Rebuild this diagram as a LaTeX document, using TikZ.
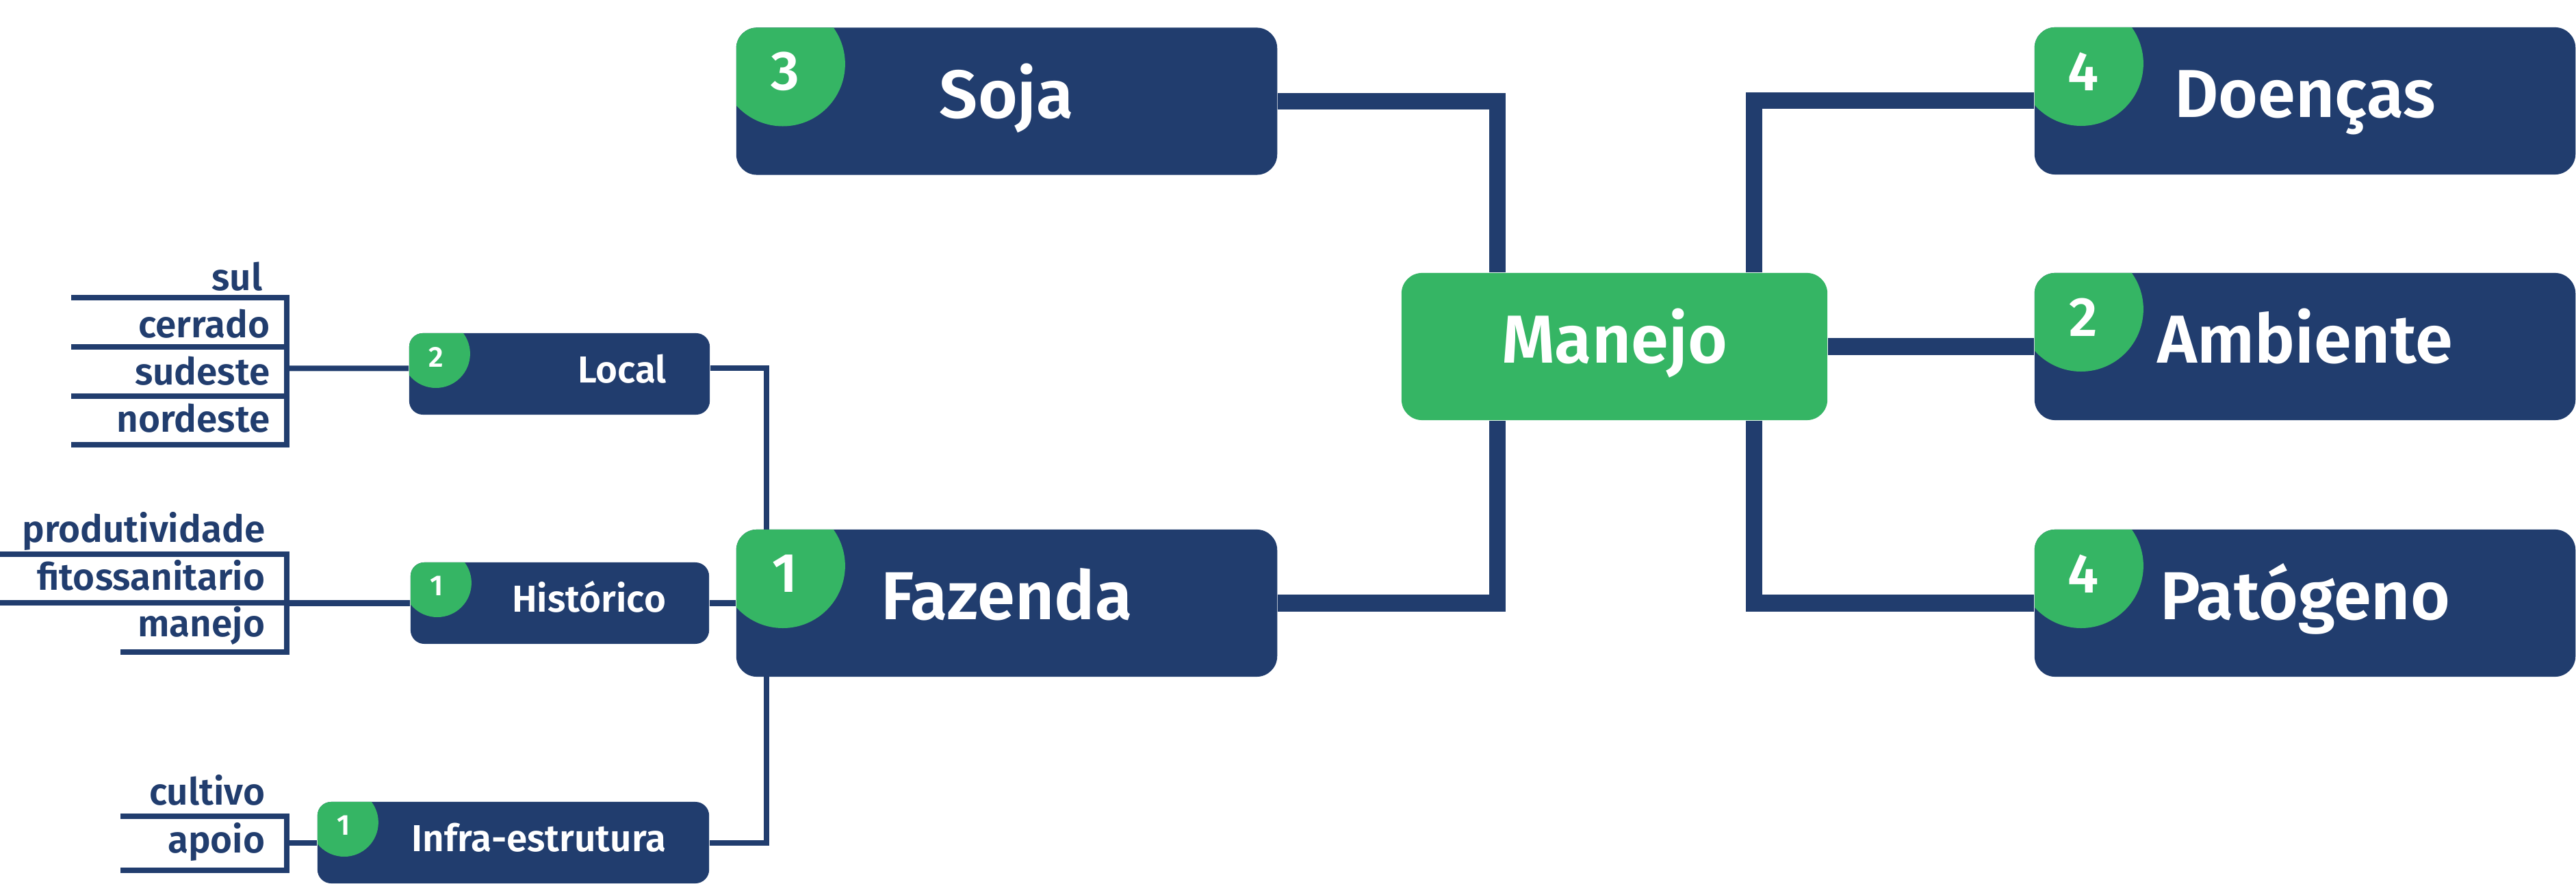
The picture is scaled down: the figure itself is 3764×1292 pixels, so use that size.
\documentclass[tikz,border=0pt]{standalone}
\usepackage{fontspec}
\setmainfont{Fira Sans SemiBold}
\usetikzlibrary{backgrounds}

\definecolor{navy}{HTML}{213D6E}
\definecolor{leaf}{HTML}{35B564}

\tikzset{
  bigbox/.style={fill=navy, rounded corners=0.3cm, minimum width=7.9cm, minimum height=2.15cm,
    inner sep=0pt, text=white, font=\fontsize{28.2}{30}\selectfont, text height=0.62cm, text depth=0.14cm,
    path picture={\fill[leaf] ([shift={(0.68cm,-0.53cm)}]path picture bounding box.north west) circle (0.91cm);}},
  smallbox/.style={fill=navy, rounded corners=0.2cm, minimum height=1.19cm, inner ysep=0pt, inner xsep=0.63cm,
    align=right, text=white, font=\fontsize{15.6}{18}\selectfont, text height=0.34cm, text depth=0.08cm,
    path picture={\fill[leaf] ([shift={(0.39cm,-0.30cm)}]path picture bounding box.north west) circle (0.50cm);}},
  bignum/.style={text=white, inner sep=0pt, font=\fontsize{23}{25}\selectfont},
  smallnum/.style={text=white, inner sep=0pt, font=\fontsize{12}{14}\selectfont},
  item/.style={text=navy, inner sep=0pt, anchor=base east, font=\fontsize{15.6}{18}\selectfont},
  thinline/.style={draw=navy, line width=0.08cm},
  thickline/.style={draw=navy, line width=0.24cm}
}

\begin{document}
\begin{tikzpicture}[x=0.01cm, y=-0.01cm] %% manejo da soja
\useasboundingbox (0,0) rectangle (3764,1292);

% main boxes
\node[bigbox] (soja) at (1471,148) {Soja};
\node[bigbox] (fazenda) at (1471,881.5) {Fazenda};
\node[bigbox, fill=leaf, minimum width=6.22cm, path picture={}] (manejo) at (2359,506.5) {Manejo};
\node[bigbox] (doencas) at (3368,147.5) {Doenças};
\node[bigbox] (ambiente) at (3368,506.5) {Ambiente};
\node[bigbox] (patogeno) at (3368,881.5) {Patógeno};

\node[bignum] (n-soja) at ([shift={(0.72cm,-0.65cm)}]soja.north west) {3};
\node[bignum] (n-fazenda) at ([shift={(0.72cm,-0.65cm)}]fazenda.north west) {1};
\node[bignum] (n-doencas) at ([shift={(0.72cm,-0.65cm)}]doencas.north west) {4};
\node[bignum] (n-ambiente) at ([shift={(0.72cm,-0.65cm)}]ambiente.north west) {2};
\node[bignum] (n-patogeno) at ([shift={(0.72cm,-0.65cm)}]patogeno.north west) {4};

% fazenda parts
\node[smallbox, text width=3.13cm] (local) at (817.5,546.5) {Local};
\node[smallbox, text width=3.10cm] (historico) at (818,881.5) {Histórico};
\node[smallbox, text width=4.46cm] (infra) at (750,1231.5) {Infra-estrutura};

\node[smallnum] (n-local) at ([shift={(0.40cm,-0.36cm)}]local.north west) {2};
\node[smallnum] (n-historico) at ([shift={(0.39cm,-0.35cm)}]historico.north west) {1};
\node[smallnum] (n-infra) at ([shift={(0.39cm,-0.35cm)}]infra.north west) {1};

% items
\foreach \nm/\txt/\tx/\by/\ly/\lx in {sul/sul/384/425/435/104, cerrado/cerrado/395/494/507/104,
    sudeste/sudeste/395/563/579/104, nordeste/nordeste/395/632/650.5/104,
    produtividade/produtividade/388/793/810/0, fito/fitossanitario/388/863/881/0,
    manejo/manejo/388/931/953/176, cultivo/cultivo/388/1176/1193/176, apoio/apoio/388/1246/1272/176}{
  \node[item] (it-\nm) at (\tx,\by) {\txt};
  \draw[thinline] (\lx,\ly) -- (423,\ly);
}
\coordinate (b-local) at (419,538.5);
\coordinate (b-historico) at (419,881.5);
\coordinate (b-infra) at (419,1231.5);
\draw[thinline] (419,431) -- (419,654.5);
\draw[thinline] (419,806) -- (419,957);
\draw[thinline] (419,1189) -- (419,1276);

\begin{scope}[on background layer]
\draw[thinline] (b-local) -- ([yshift=0.08cm]local.west);
\draw[thinline] (b-historico) -- (historico.west);
\draw[thinline] (b-infra) -- (infra.west);

\coordinate (f-join) at (1120,881.5);
\draw[thinline] ([yshift=0.08cm]local.east) -| (f-join) |- (infra.east);
\draw[thinline] (historico.east) -- (fazenda.west);

\draw[thickline] (soja.east) -| ([xshift=-1.71cm]manejo.north);
\draw[thickline] (fazenda.east) -| ([xshift=-1.71cm]manejo.south);
\draw[thickline] (doencas.west) -| ([xshift=2.04cm]manejo.north);
\draw[thickline] (patogeno.west) -| ([xshift=2.04cm]manejo.south);
\draw[thickline] (manejo.east) -- (ambiente.west);
\end{scope}
\end{tikzpicture}
\end{document}
